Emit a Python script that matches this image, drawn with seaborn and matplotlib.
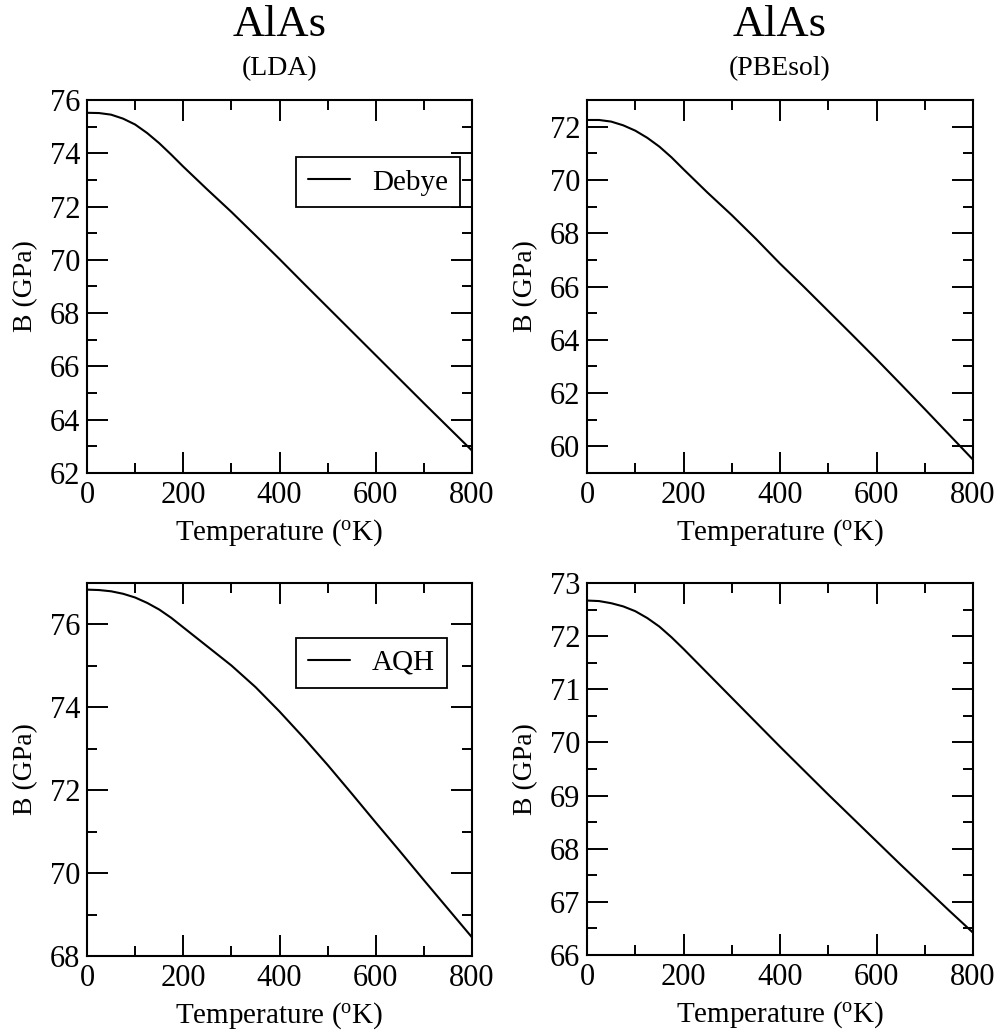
import numpy as np
import pandas as pd
import matplotlib
matplotlib.use("Agg")
import matplotlib.pyplot as plt
from matplotlib.ticker import MultipleLocator
import seaborn as sns

# Bulk modulus of AlAs versus temperature
temperature = [0, 25, 50, 75, 100, 125, 150, 175, 200, 250, 300, 350, 400,
               450, 500, 550, 600, 650, 700, 750, 800]

b_lda_debye = [75.52, 75.51, 75.45, 75.30, 75.08, 74.76, 74.38, 73.95, 73.50,
               72.64, 71.80, 70.92, 70.03, 69.12, 68.22, 67.32, 66.42, 65.52,
               64.62, 63.73, 62.84]
b_pbesol_debye = [72.25, 72.25, 72.19, 72.05, 71.85, 71.58, 71.25, 70.85, 70.40,
                  69.52, 68.68, 67.79, 66.86, 65.98, 65.08, 64.18, 63.27, 62.34,
                  61.40, 60.45, 59.50]
b_lda_aqh = [76.84, 76.83, 76.80, 76.74, 76.65, 76.52, 76.36, 76.16, 75.93,
             75.47, 75.01, 74.49, 73.90, 73.27, 72.61, 71.92, 71.22, 70.53,
             69.83, 69.14, 68.45]
b_pbesol_aqh = [72.67, 72.66, 72.62, 72.56, 72.47, 72.34, 72.18, 71.98, 71.76,
                71.30, 70.84, 70.38, 69.92, 69.47, 69.02, 68.58, 68.14, 67.70,
                67.27, 66.84, 66.42]

material = "AlAs"
functionals = ["(LDA)", "(PBEsol)"]
legend_labels = ["Debye", "AQH"]
x_label = "Temperature ($^{\\mathrm{o}}$K)"
y_label = "B (GPa)"

sns.set_theme(style="ticks")
plt.rcParams["font.family"] = ["Liberation Serif", "DejaVu Serif"]
plt.rcParams["mathtext.fontset"] = "custom"
plt.rcParams["mathtext.rm"] = "Liberation Serif"
plt.rcParams["mathtext.it"] = "Liberation Serif:italic"
for key in ["text.color", "axes.labelcolor", "xtick.color", "ytick.color",
            "axes.edgecolor"]:
    plt.rcParams[key] = "black"

fig = plt.figure(figsize=(10, 10.36), dpi=100)

W, H = 1000.0, 1036.0


def make_axes(left, right, top, bottom):
    return fig.add_axes([left / W, 1 - bottom / H, (right - left) / W, (bottom - top) / H])


ax_tl = make_axes(87, 472, 100, 473)
ax_tr = make_axes(587, 973, 100, 473)
ax_bl = make_axes(87, 472, 583, 956)
ax_br = make_axes(587, 973, 583, 955)

panels = [
    (ax_tl, b_lda_debye, (62, 76), 2, 1, legend_labels[0], 0.846),
    (ax_tr, b_pbesol_debye, (59, 73), 2, 1, None, None),
    (ax_bl, b_lda_aqh, (68, 77), 2, 1, legend_labels[1], 0.853),
    (ax_br, b_pbesol_aqh, (66, 73), 1, 0.5, None, None),
]

for ax, values, ylim, ymaj, ymin, label, leg_y in panels:
    df = pd.DataFrame({"T": temperature, "B": values})
    sns.lineplot(data=df, x="T", y="B", ax=ax, color="black", linewidth=1.5,
                 label=label, legend=bool(label))
    ax.set_xlim(0, 800)
    ax.set_ylim(*ylim)
    ax.xaxis.set_major_locator(MultipleLocator(200))
    ax.xaxis.set_minor_locator(MultipleLocator(100))
    ax.yaxis.set_major_locator(MultipleLocator(ymaj))
    ax.yaxis.set_minor_locator(MultipleLocator(ymin))
    ax.tick_params(which="both", direction="in", top=True, right=True,
                   width=1.4, colors="black", labelsize=22)
    ax.tick_params(axis="x", which="major", length=15, pad=6)
    ax.tick_params(axis="y", which="major", length=15, pad=5)
    ax.tick_params(which="minor", length=7.5)
    for sp in ax.spines.values():
        sp.set_linewidth(1.5)
        sp.set_color("black")
        sp.set_visible(True)
    ax.set_xlabel(x_label, fontsize=21, labelpad=5)
    ax.set_ylabel(y_label, fontsize=20, labelpad=8)
    if label:
        leg = ax.legend(loc="upper left", bbox_to_anchor=(0.543, leg_y),
                        borderaxespad=0, fontsize=21, frameon=True, fancybox=False,
                        handlelength=1.45, handletextpad=0.75, borderpad=0.4,
                        edgecolor="black", framealpha=1)
        leg.get_frame().set_linewidth(1.3)

for ax, sub in [(ax_tl, functionals[0]), (ax_tr, functionals[1])]:
    ax.text(0.5, 1.2, material, transform=ax.transAxes, ha="center", va="center",
            fontsize=32)
    ax.text(0.5, 1.083, sub, transform=ax.transAxes, ha="center", va="center",
            fontsize=20)

fig.savefig("out.png", dpi=100)
